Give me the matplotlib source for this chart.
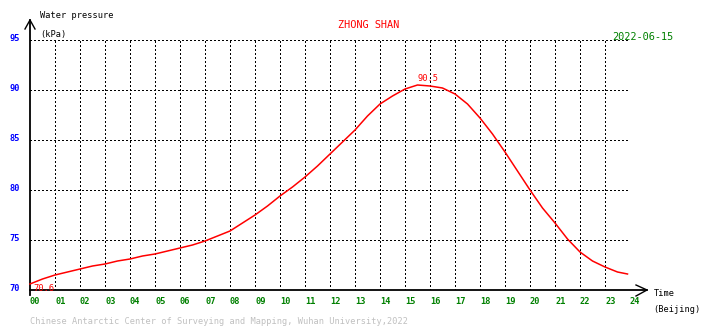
import numpy as np
import matplotlib
matplotlib.use("Agg")
import matplotlib.pyplot as plt

# water pressure at Zhong Shan station, read every half hour (Beijing time)
hours = [0, 0.5, 1, 1.5, 2, 2.5, 3, 3.5, 4, 4.5, 5, 5.5, 6, 6.5, 7, 7.5,
         8, 8.5, 9, 9.5, 10, 10.5, 11, 11.5, 12, 12.5, 13, 13.5, 14, 14.5,
         15, 15.5, 16, 16.5, 17, 17.5, 18, 18.5, 19, 19.5, 20, 20.5, 21,
         21.5, 22, 22.5, 23, 23.5, 23.9]
pressure = [70.6, 71.1, 71.5, 71.8, 72.1, 72.4, 72.6, 72.9, 73.1, 73.4,
            73.6, 73.9, 74.2, 74.5, 74.9, 75.4, 75.9, 76.7, 77.5, 78.4,
            79.4, 80.3, 81.3, 82.4, 83.6, 84.8, 86.0, 87.4, 88.6, 89.4,
            90.1, 90.5, 90.4, 90.2, 89.6, 88.6, 87.2, 85.6, 83.8, 81.9,
            80.0, 78.2, 76.7, 75.1, 73.8, 72.9, 72.3, 71.8, 71.6]
yticks = [70, 75, 80, 85, 90, 95]
xticks = list(range(25))
xlabels = ["%02d" % h for h in xticks]

W, H = 710, 328
fig = plt.figure(figsize=(W / 100, H / 100), dpi=100)
fig.patch.set_facecolor("white")

# plot area: hour 0..24 -> x 30..630 px, 70..95 kPa -> y 290..40 px
ax = fig.add_axes([30 / W, (H - 290) / H, 600 / W, 250 / H])
ax.set_xlim(0, 24)
ax.set_ylim(70, 95)
ax.axis("off")

mono = "DejaVu Sans Mono"
dot = (0, (1, 2))

# dotted grid, drawn without antialiasing so the dots stay crisp
ax.hlines(yticks[1:], 0, 24, colors="black", linestyles=dot, lw=1.0,
          antialiased=False)
ax.vlines(xticks[1:], 70, 95, colors="black", linestyles=dot, lw=1.0,
          antialiased=False)

# axes with open arrow heads
ax.plot([0, 0], [69.5, 97], color="black", lw=1.3, clip_on=False)
ax.plot([-0.2, 0, 0.2], [96.1, 97, 96.1], color="black", lw=1.0, clip_on=False)
ax.plot([0, 24.68], [70, 70], color="black", lw=1.3, clip_on=False)
ax.plot([24.24, 24.68, 24.24], [70.5, 70, 69.4], color="black", lw=1.0, clip_on=False)

# the pressure curve
ax.plot(hours, pressure, color="#ff0000", lw=1.1, clip_on=False)

# min / max annotations
i_min = int(np.argmin(pressure))
i_max = int(np.argmax(pressure))
ax.text(hours[i_min] + 0.12, pressure[i_min] + 0.05, "%.1f" % pressure[i_min],
        color="#ff0000", fontsize=6.3, family=mono, ha="left", va="top")
ax.text(hours[i_max], pressure[i_max] + 0.2, "%.1f" % pressure[i_max],
        color="#ff0000", fontsize=6.3, family=mono, ha="left", va="bottom")

# tick labels
for v in yticks:
    ax.text(-0.42, v + 0.15, str(v), color="#0000ff", fontsize=6.2, family=mono,
            ha="right", va="center", fontweight="bold")
for h, lab in zip(xticks, xlabels):
    ax.text(h, 69.3, lab, color="#008000", fontsize=6.2, family=mono,
            ha="left", va="top", fontweight="bold")

def px(x, y):
    return x / W, 1 - y / H

fig.text(*px(40, 16), "Water pressure", fontsize=6.2, family=mono, va="center")
fig.text(*px(40, 34), "(kPa)", fontsize=6.2, family=mono, va="center")
fig.text(*px(654, 294), "Time", fontsize=6.2, family=mono, va="center")
fig.text(*px(653, 310), "(Beijing)", fontsize=6.2, family=mono, va="center")
fig.text(*px(369, 25), "ZHONG SHAN", fontsize=7.4, family=mono,
         color="#ff0000", ha="center", va="center")
fig.text(*px(612, 37), "2022-06-15", fontsize=7.4, family=mono,
         color="#008000", ha="left", va="center")
fig.text(*px(30, 321), "Chinese Antarctic Center of Surveying and Mapping, Wuhan University,2022",
         fontsize=6.2, family=mono, color="#c0c0c0", ha="left", va="center")

fig.savefig("out.png", dpi=100, facecolor="white")
